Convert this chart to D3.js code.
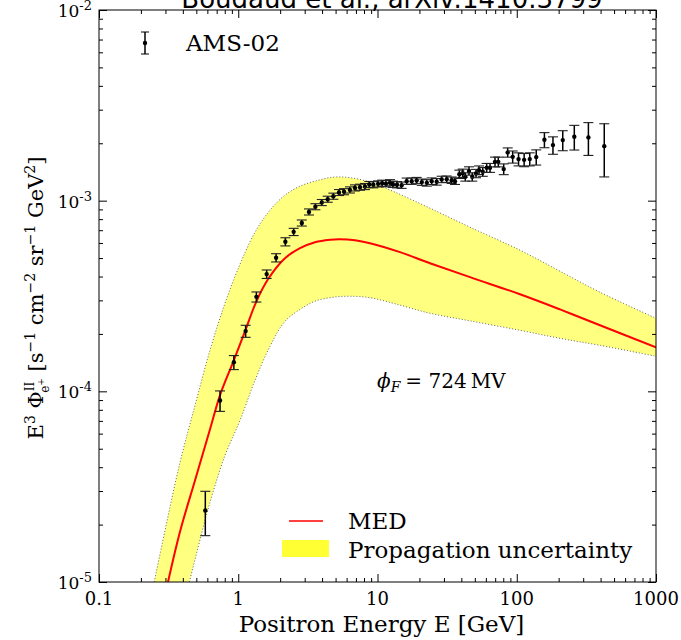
<!DOCTYPE html>
<html>
<head>
<meta charset="utf-8">
<script src="https://cdn.jsdelivr.net/npm/d3@7"></script>
<style>
  body { margin: 0; background: #fff; }
  text { font-family: "DejaVu Serif", serif; fill: #000; }
</style>
</head>
<body>
<script>
// AMS-02 positron data (E in GeV, E^3 flux)
const amsEnergy = [0.58, 0.74, 0.93, 1.13, 1.35, 1.6, 1.87, 2.18, 2.5, 2.86, 3.22, 3.58, 3.98, 4.39, 4.82, 5.29, 5.75, 6.34, 6.89, 7.49, 8.13, 8.73, 9.33, 10.1, 10.8, 11.5, 12.3, 12.9, 13.8, 14.9, 16.2, 17.6, 19.1, 20.8, 22.6, 24.5, 26.6, 28.9, 31.4, 34.1, 36.0, 38.7, 40.9, 42.7, 45.4, 47.9, 51.0, 53.6, 57.0, 60.8, 64.3, 69.8, 73.7, 80.6, 86.1, 93.5, 103, 113, 124, 138, 158, 182, 214, 259, 327, 425];
const amsFlux = [2.37e-5, 8.95e-5, 1.42e-4, 2.07e-4, 3.13e-4, 4.12e-4, 5.02e-4, 6.09e-4, 6.86e-4, 7.64e-4, 8.73e-4, 9.3e-4, 9.78e-4, 1.018e-3, 1.056e-3, 1.104e-3, 1.115e-3, 1.139e-3, 1.167e-3, 1.177e-3, 1.187e-3, 1.216e-3, 1.213e-3, 1.225e-3, 1.235e-3, 1.228e-3, 1.243e-3, 1.22e-3, 1.213e-3, 1.206e-3, 1.266e-3, 1.266e-3, 1.276e-3, 1.251e-3, 1.24e-3, 1.266e-3, 1.256e-3, 1.293e-3, 1.297e-3, 1.281e-3, 1.266e-3, 1.377e-3, 1.394e-3, 1.333e-3, 1.433e-3, 1.333e-3, 1.389e-3, 1.446e-3, 1.417e-3, 1.487e-3, 1.487e-3, 1.598e-3, 1.598e-3, 1.464e-3, 1.791e-3, 1.698e-3, 1.652e-3, 1.637e-3, 1.652e-3, 1.692e-3, 2.085e-3, 1.956e-3, 2.078e-3, 2.163e-3, 2.147e-3, 1.932e-3];
const amsError = [6.2e-6, 1.1e-5, 1.2e-5, 1.5e-5, 1.9e-5, 2.1e-5, 2.5e-5, 3.0e-5, 3.0e-5, 2.8e-5, 3.2e-5, 3.4e-5, 3.6e-5, 3.7e-5, 3.9e-5, 4.0e-5, 4.1e-5, 4.2e-5, 4.3e-5, 4.3e-5, 4.4e-5, 4.5e-5, 4.5e-5, 4.5e-5, 4.6e-5, 4.6e-5, 4.6e-5, 4.6e-5, 4.6e-5, 4.6e-5, 4.8e-5, 4.8e-5, 4.8e-5, 4.8e-5, 4.8e-5, 5.0e-5, 5.0e-5, 5.0e-5, 5.0e-5, 5.0e-5, 5.0e-5, 6.9e-5, 7.0e-5, 6.7e-5, 7.2e-5, 6.7e-5, 7.0e-5, 7.5e-5, 7.5e-5, 8.0e-5, 8.0e-5, 9.4e-5, 9.4e-5, 9.5e-5, 1.0e-4, 1.24e-4, 1.3e-4, 1.3e-4, 1.3e-4, 1.55e-4, 1.9e-4, 2.05e-4, 2.5e-4, 3.2e-4, 4.2e-4, 6.0e-4];

// MED model curve
const medEnergy = [0.313, 0.382, 0.489, 0.627, 0.739, 0.917, 1.118, 1.341, 1.635, 2.166, 2.776, 3.558, 4.56, 5.38, 6.894, 8.835, 14.51, 23.82, 46.16, 105.5, 204.5, 396.1, 1000];
const medFlux = [1.0e-5, 1.84e-5, 3.41e-5, 6.32e-5, 9.53e-5, 1.42e-4, 2.065e-4, 2.93e-4, 3.87e-4, 4.99e-4, 5.63e-4, 6.05e-4, 6.24e-4, 6.28e-4, 6.2e-4, 5.98e-4, 5.37e-4, 4.7e-4, 3.97e-4, 3.23e-4, 2.69e-4, 2.22e-4, 1.7e-4];

// propagation uncertainty band
const bandEnergy = [0.2324, 0.2979, 0.3817, 0.4891, 0.6267, 0.803, 1.0294, 1.319, 1.69, 2.166, 2.776, 3.558, 4.791, 6.344, 8.835, 13.36, 23.82, 46.16, 105.5, 204.5, 396.1, 1000];
const bandMax = [7.8e-6, 1.863e-5, 4.24e-5, 8.44e-5, 1.641e-4, 2.897e-4, 4.64e-4, 6.83e-4, 8.915e-4, 1.069e-3, 1.191e-3, 1.266e-3, 1.328e-3, 1.32e-3, 1.251e-3, 1.108e-3, 9.13e-4, 7.26e-4, 5.5e-4, 4.265e-4, 3.31e-4, 2.416e-4];
const bandMin = [1.115e-6, 2.76e-6, 6.28e-6, 1.312e-5, 2.615e-5, 4.61e-5, 7.04e-5, 1.142e-4, 1.722e-4, 2.33e-4, 2.69e-4, 2.97e-4, 3.115e-4, 3.153e-4, 3.097e-4, 2.88e-4, 2.567e-4, 2.342e-4, 2.09e-4, 1.897e-4, 1.743e-4, 1.527e-4];

const xTicks = [0.1, 1, 10, 100, 1000];
const yTicks = [1e-5, 1e-4, 1e-3, 1e-2];

const chartWidth = 681;
const chartHeight = 640;
const margin = { top: 10, right: 25, bottom: 58, left: 99 };
const width = chartWidth - margin.left - margin.right;
const height = chartHeight - margin.top - margin.bottom;

const x = d3.scaleLog().domain([0.1, 1000]).range([0, width]);
const y = d3.scaleLog().domain([1e-5, 1e-2]).range([height, 0]);

const minorOf = (ticks) => ticks.slice(0, -1).flatMap((t) => d3.range(2, 10).map((k) => t * k));

const svg = d3
  .select("body")
  .append("svg")
  .attr("width", chartWidth)
  .attr("height", chartHeight);

// title, clipped at the top like the original
svg
  .append("text")
  .attr("x", 392)
  .attr("y", 8)
  .attr("text-anchor", "middle")
  .style("font-family", "'DejaVu Sans', sans-serif")
  .style("font-size", "26px")
  .text("Boudaud et al., arXiv:1410.3799");

const g = svg.append("g").attr("transform", "translate(" + margin.left + "," + margin.top + ")");

g.append("clipPath").attr("id", "plot").append("rect").attr("width", width).attr("height", height);

const plot = g.append("g").attr("clip-path", "url(#plot)");

const band = bandEnergy.map((e, i) => ({ e, lo: bandMin[i], hi: bandMax[i] }));

plot
  .append("path")
  .datum(band)
  .attr("fill", "#ffff80")
  .attr(
    "d",
    d3
      .area()
      .curve(d3.curveCatmullRom)
      .x((d) => x(d.e))
      .y0((d) => y(d.lo))
      .y1((d) => y(d.hi))
  );

["hi", "lo"].forEach((k) => {
  plot
    .append("path")
    .datum(band)
    .attr("fill", "none")
    .attr("stroke", "#666")
    .attr("stroke-width", 1)
    .attr("stroke-dasharray", "1,2")
    .attr(
      "d",
      d3
        .line()
        .curve(d3.curveCatmullRom)
        .x((d) => x(d.e))
        .y((d) => y(d[k]))
    );
});

plot
  .append("path")
  .datum(medEnergy.map((e, i) => ({ e, v: medFlux[i] })))
  .attr("fill", "none")
  .attr("stroke", "#ff0000")
  .attr("stroke-width", 2)
  .attr(
    "d",
    d3
      .line()
      .curve(d3.curveCatmullRom)
      .x((d) => x(d.e))
      .y((d) => y(d.v))
  );

// error bars
const ams = amsEnergy.map((e, i) => ({ e, v: amsFlux[i], err: amsError[i] }));
const bars = plot.selectAll(".ams").data(ams).enter().append("g").attr("class", "ams");

bars
  .append("line")
  .attr("x1", (d) => x(d.e))
  .attr("x2", (d) => x(d.e))
  .attr("y1", (d) => y(d.v + d.err))
  .attr("y2", (d) => y(d.v - d.err))
  .attr("stroke", "#000")
  .attr("stroke-width", 1.5);

[1, -1].forEach((s) => {
  bars
    .append("line")
    .attr("x1", (d) => x(d.e) - 5)
    .attr("x2", (d) => x(d.e) + 5)
    .attr("y1", (d) => y(d.v + s * d.err))
    .attr("y2", (d) => y(d.v + s * d.err))
    .attr("stroke", "#222")
    .attr("stroke-width", 1.1);
});

bars
  .append("circle")
  .attr("cx", (d) => x(d.e))
  .attr("cy", (d) => y(d.v))
  .attr("r", 2.2)
  .attr("fill", "#000");

// axes: inward ticks on all four sides
const axes = [
  { axis: d3.axisBottom, pos: "translate(0," + height + ")", scale: x, ticks: xTicks },
  { axis: d3.axisTop, pos: "translate(0,0)", scale: x, ticks: xTicks },
  { axis: d3.axisLeft, pos: "translate(0,0)", scale: y, ticks: yTicks },
  { axis: d3.axisRight, pos: "translate(" + width + ",0)", scale: y, ticks: yTicks },
];

axes.forEach((a) => {
  const major = g
    .append("g")
    .attr("transform", a.pos)
    .call(a.axis(a.scale).tickValues(a.ticks).tickSize(-8).tickSizeOuter(0).tickFormat(""));
  const minor = g
    .append("g")
    .attr("transform", a.pos)
    .call(a.axis(a.scale).tickValues(minorOf(a.ticks)).tickSize(-4).tickSizeOuter(0).tickFormat(""));
  [major, minor].forEach((s) => {
    s.select(".domain").remove();
    s.selectAll("line").attr("stroke", "#000");
  });
});

g.append("rect")
  .attr("width", width)
  .attr("height", height)
  .attr("fill", "none")
  .attr("stroke", "#000")
  .attr("stroke-width", 1);

// tick labels
g.selectAll(".xlabel")
  .data(xTicks)
  .enter()
  .append("text")
  .attr("x", (d) => x(d))
  .attr("y", height + 23)
  .attr("text-anchor", "middle")
  .style("font-size", "18px")
  .text((d) => String(d));

const yl = g
  .selectAll(".ylabel")
  .data(yTicks)
  .enter()
  .append("text")
  .attr("x", -7)
  .attr("y", (d) => y(d) + 7)
  .attr("text-anchor", "end")
  .style("font-size", "17px");
yl.append("tspan").text("10");
yl.append("tspan")
  .attr("dy", -7)
  .style("font-size", "13px")
  .text((d) => "-" + Math.round(-Math.log10(d)));

// axis titles
svg
  .append("text")
  .attr("x", margin.left + width / 2 + 4)
  .attr("y", 632)
  .attr("text-anchor", "middle")
  .style("font-size", "23px")
  .text("Positron Energy E [GeV]");

const ylab = svg
  .append("text")
  .attr("transform", "translate(43,298) rotate(-90)")
  .attr("text-anchor", "middle")
  .style("font-size", "20px");

[
  ["E", 0, 0, 21],
  ["3", -8, 0, 14],
  [" \u03a6", 8, 0, 21],
  ["II", -9, 0, 12],
  ["e", 15, -11, 12],
  ["+", -5, 0, 9],
  [" [s", -1, 0, 21],
  ["\u22121", -8, 0, 14],
  [" cm", 8, 0, 21],
  ["\u22122", -8, 0, 14],
  [" sr", 8, 0, 21],
  ["\u22121", -8, 0, 14],
  [" GeV", 8, 0, 21],
  ["2", -8, 0, 14],
  ["]", 8, 0, 21],
].forEach(([t, dy, dx, fs]) => {
  ylab.append("tspan").attr("dy", dy).attr("dx", dx).style("font-size", fs + "px").text(t);
});

// annotation
const ann = g.append("text").attr("x", 377 - margin.left).attr("y", 388 - margin.top).style("font-size", "20px");
ann.append("tspan").style("font-style", "italic").text("\u03d5");
ann.append("tspan").attr("dy", 4).style("font-style", "italic").style("font-size", "14px").text("F");
ann.append("tspan").attr("dy", -4).attr("dx", 5).text("= 724\u2009MV");

// legend: AMS-02 top left
const leg1 = svg.append("g").attr("transform", "translate(145,43)");
leg1.append("line").attr("y1", -11).attr("y2", 11).attr("stroke", "#000").attr("stroke-width", 1.5);
[-11, 11].forEach((v) => leg1.append("line").attr("x1", -4).attr("x2", 4).attr("y1", v).attr("y2", v).attr("stroke", "#000"));
leg1.append("circle").attr("r", 2.2).attr("fill", "#000");
leg1.append("text").attr("x", 41).attr("y", 8).style("font-size", "23px").text("AMS-02");

// legend: model bottom right
svg
  .append("line")
  .attr("x1", 289)
  .attr("x2", 323)
  .attr("y1", 521)
  .attr("y2", 521)
  .attr("stroke", "#ff0000")
  .attr("stroke-width", 1.5);
svg.append("text").attr("x", 348).attr("y", 529).style("font-size", "23px").text("MED");
svg
  .append("rect")
  .attr("x", 282)
  .attr("y", 540)
  .attr("width", 47)
  .attr("height", 17)
  .attr("fill", "#ffff33");
svg.append("text").attr("x", 348).attr("y", 558).style("font-size", "23px").text("Propagation uncertainty");
</script>
</body>
</html>
